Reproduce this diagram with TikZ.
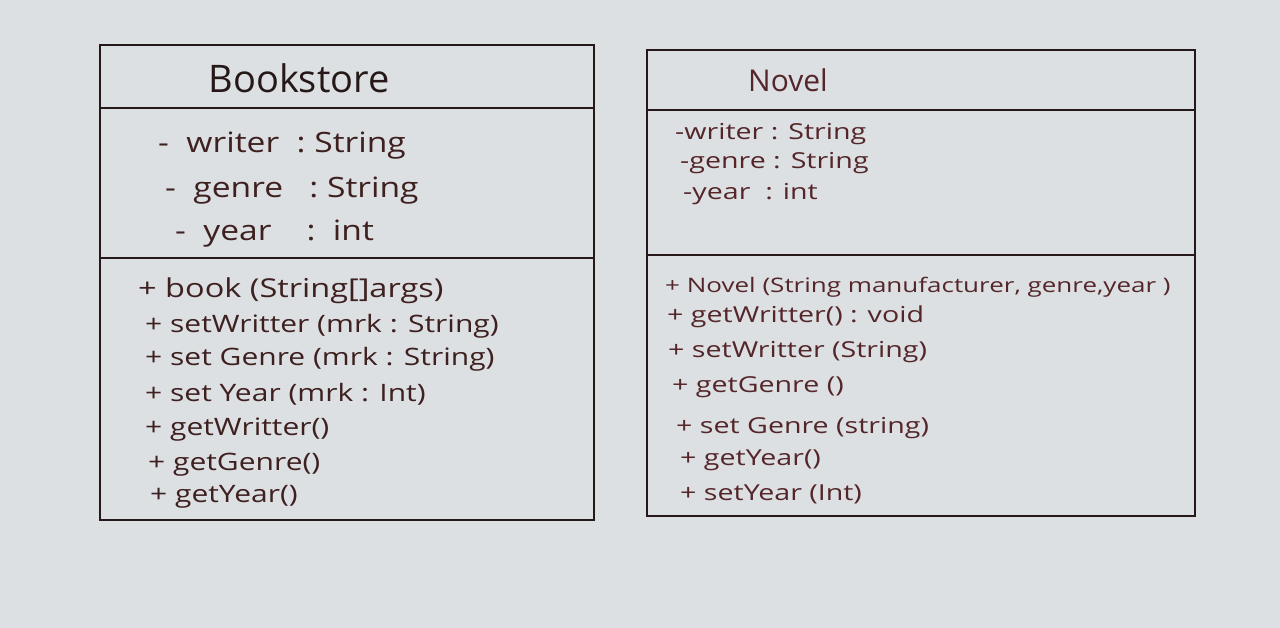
\documentclass[tikz,border=0pt]{standalone}
\usepackage{fontspec}
\setmainfont{Open Sans}
\newfontfamily\handA[FakeStretch=1.2]{Open Sans}
\newfontfamily\handB[FakeStretch=1.25]{Open Sans}
\newfontfamily\handC[FakeStretch=1.3]{Open Sans}
\definecolor{paper}{RGB}{221,224,226}
\definecolor{ink}{RGB}{38,24,24}
\definecolor{inkb}{RGB}{62,32,32}
\definecolor{inkn}{RGB}{84,38,42}
\begin{document}
\begin{tikzpicture}[x=1pt,y=-1pt,
  frame/.style={draw=ink,line width=2.3pt},
  sep/.style={draw=ink,line width=2.3pt},
  title/.style={anchor=center,text=ink,inner sep=0pt},
  txt/.style={anchor=base west,text=inkb,inner sep=0pt},
  ntxt/.style={anchor=base west,text=inkn,inner sep=0pt},
  battr/.style={txt,font=\handA\fontsize{28}{30}\selectfont},
  bmeth/.style={txt,font=\handB\fontsize{24}{26}\selectfont},
  nattr/.style={ntxt,font=\handC\fontsize{22}{24}\selectfont},
  nmeth/.style={ntxt,font=\handC\fontsize{22}{24}\selectfont}]
\fill[paper] (0,0) rectangle (1280,628);
\useasboundingbox (0,0) rectangle (1280,628);
% Bookstore class
\draw[frame] (100,45) rectangle (594,520);
\draw[sep] (100,108) -- (594,108);
\draw[sep] (100,258) -- (594,258);
\node[title,font=\fontsize{38}{40}\selectfont] (bt) at (299,78) {Bookstore};
\node[battr] (ba1) at (158,153) {-\ \ writer\ \ :\ String};
\node[battr] (ba2) at (165,198) {-\ \ genre\ \ \ :\ String};
\node[battr] (ba3) at (175,241) {-\ \ year\ \ \ \ :\ \ int};
\node[bmeth,font=\handB\fontsize{26}{28}\selectfont] (bm1) at (138,298) {+\ book (String[]args)};
\node[bmeth] (bm2) at (145,333) {+\ setWritter (mrk : String)};
\node[bmeth] (bm3) at (145,366) {+\ set Genre (mrk : String)};
\node[bmeth] (bm4) at (145,401) {+\ set Year (mrk : Int)};
\node[bmeth] (bm5) at (145,435) {+\ getWritter()};
\node[bmeth] (bm6) at (148,470) {+\ getGenre()};
\node[bmeth] (bm7) at (150,502) {+\ getYear()};
% Novel class
\draw[frame] (647,50) rectangle (1195,516);
\draw[sep] (647,110) -- (1195,110);
\draw[sep] (647,255) -- (1195,255);
\node[title,font=\fontsize{30}{32}\selectfont,text=inkn] (nt) at (788,80) {Novel};
\node[nattr] (na1) at (675,140) {-writer : String};
\node[nattr] (na2) at (680,169) {-genre : String};
\node[nattr] (na3) at (683,200) {-year\ \ : int};
\node[ntxt,font=\handC\fontsize{20}{24}\selectfont] (nm1) at (665,293) {+ Novel (String manufacturer, genre,year )};
\node[nmeth] (nm2) at (667,323) {+ getWritter() : void};
\node[nmeth] (nm3) at (668,358) {+ setWritter (String)};
\node[nmeth] (nm4) at (672,392) {+ getGenre ()};
\node[nmeth] (nm5) at (676,433) {+\ set Genre (string)};
\node[nmeth] (nm6) at (680,465) {+ getYear()};
\node[nmeth] (nm7) at (680,500) {+ setYear (Int)};
\end{tikzpicture}
\end{document}
